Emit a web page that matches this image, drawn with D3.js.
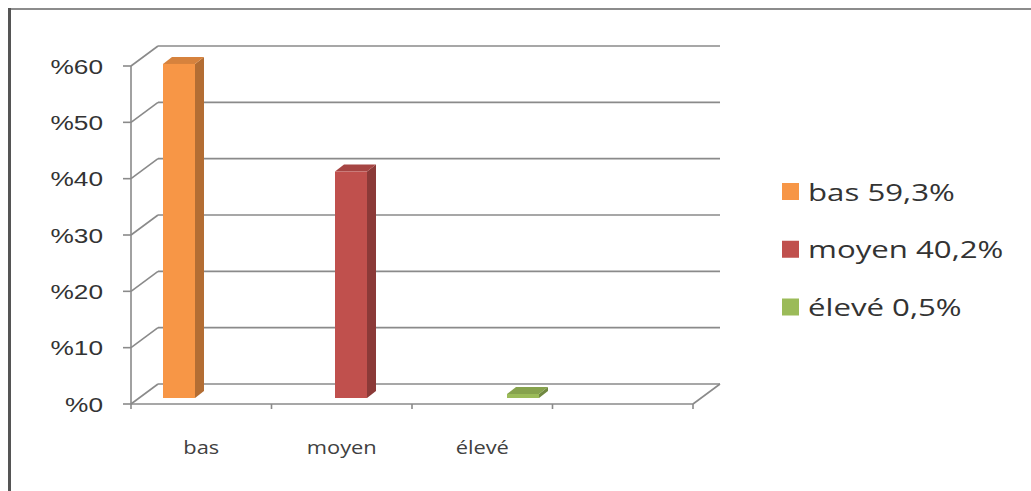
<!DOCTYPE html>
<html>
<head>
<meta charset="utf-8">
<script src="https://cdn.jsdelivr.net/npm/d3@7"></script>
<style>
  body { margin: 0; background: #fff; }
</style>
</head>
<body>
<div id="chart"></div>
<script>
// data
const categories = ['bas', 'moyen', 'élevé', ''];
const values = [59.3, 40.2, 0.5];
const yTicks = [0, 10, 20, 30, 40, 50, 60];
const legendLabels = ['bas 59,3%', 'moyen 40,2%', 'élevé 0,5%'];
const colors = ['#F79646', '#C0504D', '#9BBB59'];

const width = 1031, height = 491;
const stretch = 1.28; // source picture is stretched horizontally
const depth = { dx: 27, dy: -20 };
const barOff = { dx: 8, dy: -6 };   // bar front face sits inside the depth
const barDepth = { dx: 9, dy: -7 };
const barW = 32;

const svg = d3.select('#chart')
    .append('svg')
    .attr('width', width)
    .attr('height', height);

// outer frame
svg.append('line')
    .attr('x1', 9).attr('y1', 9).attr('x2', width).attr('y2', 9)
    .attr('stroke', '#8c8c8c').attr('stroke-width', 2);
svg.append('line')
    .attr('x1', 9.5).attr('y1', 8).attr('x2', 9.5).attr('y2', height)
    .attr('stroke', '#555').attr('stroke-width', 3);

const y = d3.scaleLinear().domain([0, 60]).range([404, 66]);
const x = d3.scaleBand().domain(categories).range([131, 693]);
const barX = d3.scalePoint().domain(categories.slice(0, 3)).range([179, 523]);

const x0 = x.range()[0], x1 = x.range()[1];
const grid = svg.append('g')
    .attr('stroke', '#8a8a8a')
    .attr('stroke-width', 1.6)
    .attr('fill', 'none');

// back wall gridlines
grid.selectAll('.back')
    .data(yTicks)
    .join('line')
    .attr('class', 'back')
    .attr('x1', x0 + depth.dx).attr('x2', x1 + depth.dx)
    .attr('y1', d => y(d) + depth.dy).attr('y2', d => y(d) + depth.dy);

// side wall diagonals
grid.selectAll('.side')
    .data(yTicks)
    .join('line')
    .attr('class', 'side')
    .attr('x1', x0).attr('x2', x0 + depth.dx)
    .attr('y1', d => y(d)).attr('y2', d => y(d) + depth.dy);

// floor front edge + right edge
grid.append('line')
    .attr('x1', x0).attr('x2', x1)
    .attr('y1', y(0)).attr('y2', y(0));
grid.append('line')
    .attr('x1', x1).attr('x2', x1 + depth.dx)
    .attr('y1', y(0)).attr('y2', y(0) + depth.dy);

// vertical axis + ticks
grid.append('line')
    .attr('x1', x0).attr('x2', x0)
    .attr('y1', y(60)).attr('y2', y(0));
grid.selectAll('.ytick')
    .data(yTicks)
    .join('line')
    .attr('class', 'ytick')
    .attr('x1', x0 - 8).attr('x2', x0)
    .attr('y1', d => y(d)).attr('y2', d => y(d));

// category ticks on the floor edge
const xEdges = categories.map(c => x(c)).concat([x1]);
grid.selectAll('.xtick')
    .data(xEdges)
    .join('line')
    .attr('class', 'xtick')
    .attr('x1', d => d).attr('x2', d => d)
    .attr('y1', y(0)).attr('y2', y(0) + 5);

// y labels
svg.append('g')
    .selectAll('text')
    .data(yTicks)
    .join('text')
    .attr('transform', d => `translate(103,${y(d) + 7.5}) scale(${stretch},1)`)
    .attr('text-anchor', 'end')
    .style('font-family', 'Liberation Sans, Arial, sans-serif')
    .style('font-size', '20.5px')
    .style('fill', '#333')
    .text(d => '%' + d);

// x labels
svg.append('g')
    .selectAll('text')
    .data(categories.filter(c => c))
    .join('text')
    .attr('transform', d => `translate(${x(d) + x.bandwidth() / 2},454) scale(1.15,1)`)
    .attr('text-anchor', 'middle')
    .style('font-family', '"Open Sans", sans-serif')
    .style('font-size', '19px')
    .style('fill', '#404040')
    .text(d => d);

// 3d bars
const bars = svg.append('g')
    .selectAll('g')
    .data(values)
    .join('g');

bars.each(function (v, i) {
    const g = d3.select(this);
    const c = d3.color(colors[i]);
    const l = barX(categories[i]) - barW / 2;
    const r = l + barW;
    const b = y(0) + barOff.dy;
    const t = Math.min(y(v) + barOff.dy, b - 4);
    const { dx, dy } = barDepth;

    // side face
    g.append('path')
        .attr('d', `M${r},${b}L${r + dx},${b + dy}L${r + dx},${t + dy}L${r},${t}Z`)
        .attr('fill', c.darker(0.9));
    // top face
    g.append('path')
        .attr('d', `M${l},${t}L${l + dx},${t + dy}L${r + dx},${t + dy}L${r},${t}Z`)
        .attr('fill', c.darker(0.4));
    // front face
    g.append('rect')
        .attr('x', l).attr('y', t)
        .attr('width', barW).attr('height', b - t)
        .attr('fill', c);
});

// legend
const legendY = d3.scalePoint().domain(legendLabels).range([191.5, 307]);
const legend = svg.append('g')
    .selectAll('g')
    .data(legendLabels)
    .join('g')
    .attr('transform', d => `translate(782,${legendY(d)})`);

legend.append('rect')
    .attr('x', 0).attr('y', -8.5)
    .attr('width', 17).attr('height', 17)
    .attr('fill', (d, i) => colors[i]);

legend.append('text')
    .attr('transform', `translate(26,9) scale(1.3,1)`)
    .style('font-family', '"Open Sans", sans-serif')
    .style('font-size', '24px')
    .style('fill', '#333')
    .text(d => d);
</script>
</body>
</html>
